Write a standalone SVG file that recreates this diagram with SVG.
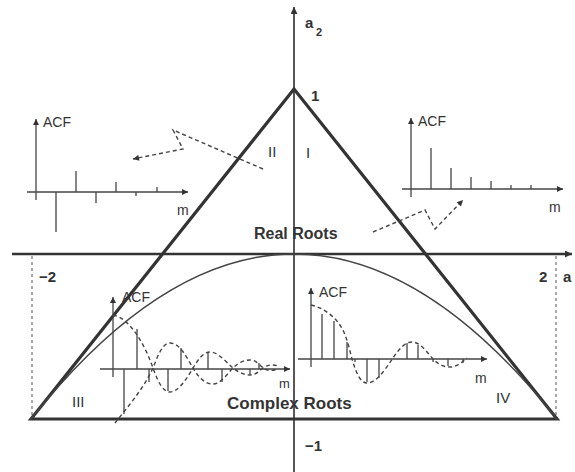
<svg xmlns="http://www.w3.org/2000/svg" width="575" height="472" viewBox="0 0 575 472">
<defs>
<marker id="ah" viewBox="0 0 10 10" refX="10" refY="5" markerWidth="12" markerHeight="7" markerUnits="userSpaceOnUse" orient="auto"><path d="M0,0 L10,5 L0,10 z" fill="#333"/></marker>
<marker id="sh" viewBox="0 0 10 10" refX="10" refY="5" markerWidth="9" markerHeight="6" markerUnits="userSpaceOnUse" orient="auto"><path d="M0,0 L10,5 L0,10 z" fill="#333"/></marker>
</defs>
<style>
.ax{stroke:#3a3a3a;stroke-width:1.7;fill:none}
.hx{stroke:#333;stroke-width:2.4;fill:none}
.tri{stroke:#333;stroke-width:3.2;fill:none}
.par{stroke:#444;stroke-width:1.5;fill:none}
.pa{stroke:#444;stroke-width:1.3;fill:none}
.st{stroke:#444;stroke-width:1.3}
.dash{stroke:#444;stroke-width:1.4;fill:none;stroke-dasharray:4 3}
.vd{stroke:#555;stroke-width:1;stroke-dasharray:3 3}
text{font-family:"Liberation Sans",Arial,sans-serif;fill:#333}
.b{font-weight:bold}
.lbl{font-size:14px}
</style>

<g id="axes">
<line class="hx" x1="12" y1="254" x2="572" y2="254" marker-end="url(#ah)"/>
<line class="ax" x1="294" y1="472" x2="294" y2="7" marker-end="url(#ah)"/>
<line class="vd" x1="32" y1="256" x2="32" y2="418"/>
<line class="vd" x1="556" y1="256" x2="556" y2="418"/>
<text class="b" x="305" y="28" font-size="15">a</text>
<text class="b" x="316" y="36" font-size="11">2</text>
<text class="b" x="311" y="101" font-size="15">1</text>
<text class="b" x="305" y="451" font-size="15">−1</text>
<text class="b" x="39" y="282" font-size="15">−2</text>
<text class="b" x="539" y="282" font-size="15">2</text>
<text class="b" x="563" y="282" font-size="15">a</text>
</g>

<g id="triangle">
<polygon class="tri" points="31,419 294,89 557,419"/>
<path class="par" d="M31,419 Q294,89 557,419"/>
<text class="b" x="254" y="239" font-size="16">Real Roots</text>
<text class="b" x="227" y="409" font-size="17">Complex Roots</text>
<text x="306" y="158" font-size="15">I</text>
<text x="268" y="157" font-size="15">II</text>
<text x="72" y="407" font-size="15">III</text>
<text x="496" y="403" font-size="15">IV</text>
</g>

<g id="plot-ii">
<line class="pa" x1="36" y1="200" x2="36" y2="119" marker-end="url(#sh)"/>
<line class="pa" x1="27" y1="192" x2="188" y2="192" marker-end="url(#sh)"/>
<line class="st" x1="56" y1="192" x2="56" y2="232"/>
<line class="st" x1="76" y1="192" x2="76" y2="171"/>
<line class="st" x1="96" y1="192" x2="96" y2="203"/>
<line class="st" x1="116" y1="192" x2="116" y2="182"/>
<line class="st" x1="136" y1="192" x2="136" y2="196"/>
<line class="st" x1="157" y1="192" x2="157" y2="187"/>
<text class="lbl" x="43" y="127">ACF</text>
<text class="lbl" x="177" y="215">m</text>
</g>

<g id="plot-i">
<line class="pa" x1="411" y1="197" x2="411" y2="118" marker-end="url(#sh)"/>
<line class="pa" x1="402" y1="189" x2="563" y2="189" marker-end="url(#sh)"/>
<line class="st" x1="431" y1="189" x2="431" y2="148"/>
<line class="st" x1="451" y1="189" x2="451" y2="168"/>
<line class="st" x1="471" y1="189" x2="471" y2="177"/>
<line class="st" x1="491" y1="189" x2="491" y2="181"/>
<line class="st" x1="511" y1="189" x2="511" y2="185"/>
<line class="st" x1="531" y1="189" x2="531" y2="185"/>
<text class="lbl" x="418" y="126">ACF</text>
<text class="lbl" x="549" y="212">m</text>
</g>

<g id="plot-iii">
<line class="pa" x1="113" y1="377" x2="113" y2="297" marker-end="url(#sh)"/>
<line class="pa" x1="100" y1="369" x2="290" y2="369" marker-end="url(#sh)"/>
<line class="st" x1="124" y1="369" x2="124" y2="414"/>
<line class="st" x1="137" y1="369" x2="137" y2="329"/>
<line class="st" x1="149" y1="369" x2="149" y2="382"/>
<line class="st" x1="168" y1="369" x2="168" y2="391"/>
<line class="st" x1="181" y1="369" x2="181" y2="348"/>
<line class="st" x1="208" y1="369" x2="208" y2="352"/>
<line class="st" x1="222" y1="369" x2="222" y2="382"/>
<line class="st" x1="250" y1="369" x2="250" y2="375"/>
<line class="st" x1="259" y1="369" x2="259" y2="363"/>
<path class="dash" d="M113,315 C130,318 145,345 153,368 C158,382 163,392 170,392 C178,392 186,380 193,368 C198,360 203,352 210,352 C218,352 226,362 233,368 C238,372 244,375 250,375 C256,375 259,371 263,368 C267,365 272,364 278,366"/>
<path class="dash" d="M115,423 C125,410 143,390 153,368 C157,358 162,343 170,343 C180,343 187,358 193,368 C199,378 205,384 213,384 C221,384 227,374 233,368 C239,362 245,360 250,360 C256,360 260,365 263,368 C267,371 272,371 278,369"/>
<text class="lbl" x="122" y="302">ACF</text>
<text x="279" y="388" font-size="13">m</text>
</g>

<g id="plot-iv">
<line class="pa" x1="311" y1="367" x2="311" y2="288" marker-end="url(#sh)"/>
<line class="pa" x1="298" y1="359" x2="487" y2="359" marker-end="url(#sh)"/>
<line class="st" x1="322" y1="359" x2="322" y2="314"/>
<line class="st" x1="334" y1="359" x2="334" y2="321"/>
<line class="st" x1="347" y1="359" x2="347" y2="342"/>
<line class="st" x1="355" y1="359" x2="355" y2="362"/>
<line class="st" x1="367" y1="359" x2="367" y2="382"/>
<line class="st" x1="379" y1="359" x2="379" y2="378"/>
<line class="st" x1="407" y1="359" x2="407" y2="343"/>
<line class="st" x1="418" y1="359" x2="418" y2="345"/>
<line class="st" x1="433" y1="359" x2="433" y2="362"/>
<line class="st" x1="448" y1="359" x2="448" y2="366"/>
<line class="st" x1="463" y1="359" x2="463" y2="363"/>
<path class="dash" d="M311,305 C325,308 340,320 345,335 C349,345 350,352 352,359 C356,372 360,383 367,383 C377,383 386,368 393,358 C399,349 405,342 412,342 C420,342 427,352 433,359 C438,364 443,367 450,367 C457,367 462,362 467,358"/>
<text class="lbl" x="319" y="297">ACF</text>
<text class="lbl" x="475" y="383">m</text>
</g>

<g id="connectors">
<polyline class="dash" points="263,169 173,130 183,149 133,159" marker-end="url(#sh)"/>
<polyline class="dash" points="373,232 425,210 435,229 463,200" marker-end="url(#sh)"/>
</g>
</svg>
